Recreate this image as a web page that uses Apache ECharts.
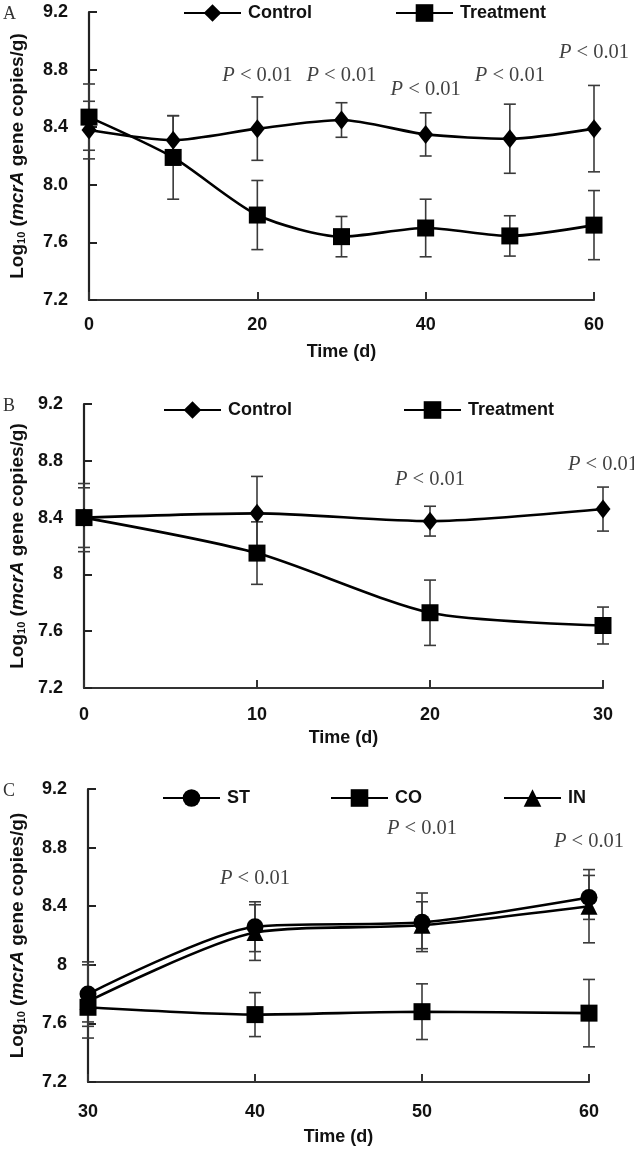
<!DOCTYPE html>
<html><head><meta charset="utf-8">
<script src="https://cdn.jsdelivr.net/npm/echarts@6/dist/echarts.min.js"></script>
<style>html,body{margin:0;padding:0;background:#fff}#c{width:634px;height:1152px}</style>
</head><body><div id="c"></div>
<script>
// ---- Panel A ----
const daysA = [0, 10, 20, 30, 40, 50, 60];
const controlA = [8.38, 8.31, 8.39, 8.45, 8.35, 8.32, 8.39];
const controlAErr = [0.20, 0.17, 0.22, 0.12, 0.15, 0.24, 0.30];
const treatA = [8.47, 8.19, 7.79, 7.64, 7.70, 7.645, 7.72];
const treatAErr = [0.23, 0.29, 0.24, 0.14, 0.20, 0.14, 0.24];
const pDaysA = [20, 30, 40, 50, 60];
const pPosA = [8.76, 8.76, 8.66, 8.76, 8.915];

// ---- Panel B ----
const daysB = [0, 10, 20, 30];
const controlB = [8.40, 8.43, 8.375, 8.46];
const controlBErr = [0.21, 0.26, 0.105, 0.155];
const treatB = [8.40, 8.15, 7.73, 7.64];
const treatBErr = [0.24, 0.22, 0.23, 0.13];
const pDaysB = [20, 30];
const pPosB = [8.67, 8.77];

// ---- Panel C ----
const daysC = [30, 40, 50, 60];
const stC = [7.80, 8.26, 8.29, 8.46];
const stCErr = [0.22, 0.17, 0.20, 0.15];
const coC = [7.71, 7.66, 7.68, 7.67];
const coCErr = [0.10, 0.15, 0.19, 0.23];
const inC = [7.75, 8.22, 8.27, 8.40];
const inCErr = [0.25, 0.19, 0.16, 0.25];
const pDaysC = [40, 50, 60];
const pPosC = [8.59, 8.93, 8.84];

// ---- tick labels ----
const yTickLabelsA = ['7.2', '7.6', '8.0', '8.4', '8.8', '9.2'];
const yTickLabelsBC = ['7.2', '7.6', '8', '8.4', '8.8', '9.2'];
const pText = '{i|P} < 0.01';

const F = '"Liberation Sans", Arial, sans-serif';
const SERIF = '"Liberation Serif", "Times New Roman", serif';
const FS = 18;
const FT = 19;

function errRender(params, api) {
  const x = api.value(0);
  const lo = api.coord([x, api.value(1)]);
  const hi = api.coord([x, api.value(2)]);
  const w = 6;
  const style = { stroke: '#3a3a3a', lineWidth: 1.6, fill: null };
  return { type: 'group', children: [
    { type: 'line', shape: { x1: hi[0], y1: hi[1], x2: lo[0], y2: lo[1] }, style },
    { type: 'line', shape: { x1: hi[0] - w, y1: hi[1], x2: hi[0] + w, y2: hi[1] }, style },
    { type: 'line', shape: { x1: lo[0] - w, y1: lo[1], x2: lo[0] + w, y2: lo[1] }, style }
  ]};
}
function errSeries(name, idx, xs, vals, errs) {
  return { type: 'custom', name, xAxisIndex: idx, yAxisIndex: idx, renderItem: errRender,
    encode: { x: 0, y: [1, 2] }, z: 1, silent: true,
    data: xs.map((d, i) => [d, vals[i] - errs[i], vals[i] + errs[i]]) };
}
function lineSeries(name, idx, xs, vals, symbol, size) {
  return { type: 'line', name, xAxisIndex: idx, yAxisIndex: idx, smooth: 0.25,
    symbol, symbolSize: size, showAllSymbol: true, z: 3,
    lineStyle: { color: '#000', width: 2.6 }, itemStyle: { color: '#000' },
    data: xs.map((d, i) => [d, vals[i]]) };
}
function pSeries(idx, xs, ys) {
  return { type: 'scatter', xAxisIndex: idx, yAxisIndex: idx, symbolSize: 1, silent: true, z: 5,
    itemStyle: { color: 'rgba(0,0,0,0)' },
    label: { show: true, position: 'inside', formatter: pText, fontFamily: SERIF, fontSize: 20.5, color: '#111',
      rich: { i: { fontStyle: 'italic', fontFamily: SERIF, fontSize: 20.5, color: '#111' } } },
    data: xs.map((d, i) => [d, ys[i]]) };
}
function xAxis(idx, min, max, interval, margin, gap) {
  return { type: 'value', gridIndex: idx, min, max, interval,
    name: 'Time (d)', nameLocation: 'middle', nameGap: gap,
    nameTextStyle: { fontFamily: F, fontWeight: 'bold', fontSize: FS, color: '#111' },
    axisLine: { lineStyle: { color: '#333', width: 2.2 } },
    axisTick: { inside: true, length: 8, lineStyle: { color: '#333', width: 2 } },
    axisLabel: { margin, fontFamily: F, fontWeight: 'bold', fontSize: FS, color: '#111' },
    splitLine: { show: false } };
}
function yAxis(idx, labels, gap) {
  return { type: 'value', gridIndex: idx, min: 7.2, max: 9.2, interval: 0.4,
    name: '{b|Log}{s|10}{b| (}{i|mcrA}{b| gene copies/g)}', nameLocation: 'middle', nameGap: gap,
    nameTextStyle: { fontFamily: F, fontWeight: 'bold', fontSize: FT, color: '#111',
      rich: {
        b: { fontFamily: F, fontWeight: 'bold', fontSize: FT, color: '#111' },
        s: { fontFamily: F, fontWeight: 'bold', fontSize: 11, color: '#111', verticalAlign: 'bottom', padding: [6, 0, 0, 0] },
        i: { fontFamily: F, fontWeight: 'bold', fontStyle: 'italic', fontSize: FT, color: '#111' }
      } },
    axisLine: { show: true, lineStyle: { color: '#222', width: 2.2 } },
    axisTick: { show: true, inside: true, length: 8, lineStyle: { color: '#222', width: 2 } },
    axisLabel: { margin: 21, fontFamily: F, fontWeight: 'bold', fontSize: FS, color: '#111',
      formatter: v => labels[Math.round((v - 7.2) / 0.4)] },
    splitLine: { show: false } };
}
function leg(name, left, top) {
  return { data: [name], left, top, padding: 0, itemWidth: 57, itemHeight: 22, itemGap: 0, selectedMode: false,
    textStyle: { fontFamily: F, fontWeight: 'bold', fontSize: FS, color: '#111', padding: [0, 0, 0, 2] } };
}

const option = {
  backgroundColor: '#fff',
  animation: false,
  grid: [
    { left: 83, top: 12, width: 511, height: 288 },
    { left: 77, top: 404, width: 526, height: 284 },
    { left: 82, top: 789, width: 507, height: 293 }
  ],
  xAxis: [ xAxis(0, 0, 60, 20, 16, 43), xAxis(1, 0, 30, 10, 18, 41), xAxis(2, 30, 60, 10, 21, 46) ],
  yAxis: [ yAxis(0, yTickLabelsA, 62), yAxis(1, yTickLabelsBC, 57), yAxis(2, yTickLabelsBC, 61) ],
  legend: [
    leg('Control', 183, 4), leg('Treatment', 395, 4),
    leg('Control', 163, 401), leg('Treatment', 403, 401),
    leg('ST', 162, 789), leg('CO', 330, 789), leg('IN', 503, 789)
  ],
  graphic: [
    { type: 'text', left: 3, top: 5, style: { text: 'A', font: '18px "Liberation Serif"', fill: '#333' } },
    { type: 'text', left: 3, top: 397, style: { text: 'B', font: '18px "Liberation Serif"', fill: '#333' } },
    { type: 'text', left: 3, top: 782, style: { text: 'C', font: '18px "Liberation Serif"', fill: '#333' } }
  ],
  series: [
    errSeries('eA1', 0, daysA, controlA, controlAErr),
    errSeries('eA2', 0, daysA, treatA, treatAErr),
    lineSeries('Control', 0, daysA, controlA, 'diamond', [15, 19]),
    lineSeries('Treatment', 0, daysA, treatA, 'rect', 17),
    pSeries(0, pDaysA, pPosA),

    errSeries('eB1', 1, daysB, controlB, controlBErr),
    errSeries('eB2', 1, daysB, treatB, treatBErr),
    lineSeries('Control', 1, daysB, controlB, 'diamond', [15, 19]),
    lineSeries('Treatment', 1, daysB, treatB, 'rect', 17),
    pSeries(1, pDaysB, pPosB),

    errSeries('eC1', 2, daysC, stC, stCErr),
    errSeries('eC2', 2, daysC, coC, coCErr),
    errSeries('eC3', 2, daysC, inC, inCErr),
    lineSeries('ST', 2, daysC, stC, 'circle', 17),
    lineSeries('CO', 2, daysC, coC, 'rect', 17),
    lineSeries('IN', 2, daysC, inC, 'triangle', 17),
    pSeries(2, pDaysC, pPosC)
  ]
};
const chart = echarts.init(document.getElementById('c'), null, { renderer: 'canvas' });
chart.setOption(option);
</script>
</body></html>
